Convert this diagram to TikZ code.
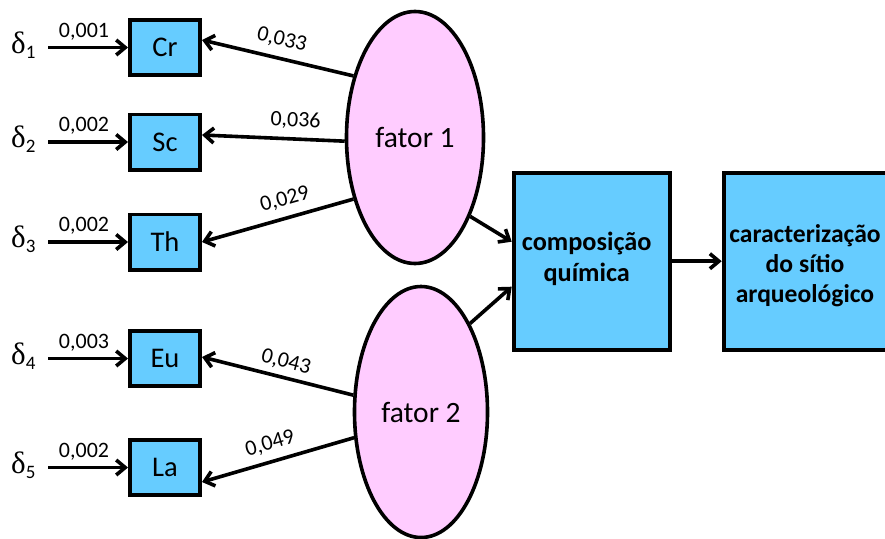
\documentclass[tikz,border=0pt]{standalone}
\usepackage{fontspec}
\setmainfont{Carlito}
\newfontfamily\dfont{Liberation Serif}
\usetikzlibrary{arrows.meta,shapes.geometric,calc}
\definecolor{boxblue}{RGB}{102,204,255}
\definecolor{pinkfill}{RGB}{255,204,255}
\begin{document}
\begin{tikzpicture}[x=1pt,y=-1pt,
  every node/.style={inner sep=0pt},
  var/.style={draw, line width=3.8pt, fill=boxblue, minimum width=70.2pt, minimum height=55.2pt, font=\fontsize{28.5}{32}\selectfont},
  big/.style={draw, line width=3.8pt, fill=boxblue, minimum height=177.2pt},
  fac/.style={draw, ellipse, line width=3.6pt, fill=pinkfill, font=\fontsize{29.5}{34}\selectfont},
  conn/.style={line width=3.6pt, -{Straight Barb[length=9pt,width=15pt]}},
  wt/.style={font=\fontsize{22}{25}\selectfont},
  btext/.style={font=\fontsize{26.3}{30.5}\selectfont\bfseries, align=center},
  dl/.style={anchor=base west, font=\dfont\fontsize{31}{34}\selectfont}
]
\clip (0,0) rectangle (885,538);
\fill[white] (0,0) rectangle (885,538);

% observed variables
\node[var] (cr) at (165,47.5) {Cr};
\node[var] (sc) at (165,142) {Sc};
\node[var] (th) at (165,242) {Th};
\node[var] (eu) at (165,358.5) {Eu};
\node[var] (la) at (165,467.5) {La};

% factors
\node[fac, minimum width=137pt, minimum height=252pt] (f1) at (415,137.5) {fator 1};
\node[fac, minimum width=133pt, minimum height=251pt] (f2) at (421,412) {fator 2};

% right boxes
\node[big, minimum width=156.2pt] (comp) at (591.7,261.2) {};
\node[btext] (tcomp) at (586.7,259) {composição\\química};
\node[big, minimum width=164.5pt] (sitio) at (805.85,261.2) {};
\node[btext, font=\fontsize{25.6}{29.6}\selectfont\bfseries] (tsitio) at (805,265.7) {caracterização\\do sítio\\arqueológico};

% error terms
\node[dl] (d1) at (11,53) {δ\raisebox{-5pt}{\rmfamily\fontsize{19}{20}\selectfont 1}};
\node[dl] (d2) at (11,147.5) {δ\raisebox{-5pt}{\rmfamily\fontsize{19}{20}\selectfont 2}};
\node[dl] (d3) at (11,247.5) {δ\raisebox{-5pt}{\rmfamily\fontsize{19}{20}\selectfont 3}};
\node[dl] (d4) at (11,364) {δ\raisebox{-5pt}{\rmfamily\fontsize{19}{20}\selectfont 4}};
\node[dl] (d5) at (11,473) {δ\raisebox{-5pt}{\rmfamily\fontsize{19}{20}\selectfont 5}};

\coordinate (s1) at (48,47.5);
\coordinate (s2) at (48,142);
\coordinate (s3) at (48,242);
\coordinate (s4) at (48,358.5);
\coordinate (s5) at (48,467.5);

\draw[conn] (s1) -- (cr) node[wt, pos=0.45, anchor=base, yshift=10.5pt] {0,001};
\draw[conn] (s2) -- (sc) node[wt, pos=0.45, anchor=base, yshift=10.5pt] {0,002};
\draw[conn] (s3) -- (th) node[wt, pos=0.45, anchor=base, yshift=10.5pt] {0,002};
\draw[conn] (s4) -- (eu) node[wt, pos=0.45, anchor=base, yshift=10.5pt] {0,003};
\draw[conn] (s5) -- (la) node[wt, pos=0.45, anchor=base, yshift=10.5pt] {0,002};

% loadings
\draw[conn] (f1.135) -- ($(cr.east)+(0,-7.5)$) node[wt, sloped, pos=0.5, above=8pt] {0,033};
\draw[conn] (f1.183) -- ($(sc.east)+(0,-7)$) node[wt, sloped, pos=0.35, above=8pt] {0,036};
\draw[conn] (f1.225) -- (th.east) node[wt, sloped, pos=0.42, above=8pt] {0,029};
\draw[conn] (f2.166) -- ($(eu.east)+(0,-1.5)$) node[wt, sloped, pos=0.47, above=5pt] {0,043};
\draw[conn] (f2.201) -- ($(la.east)+(0,14.5)$) node[wt, sloped, pos=0.52, above=7pt] {0,049};

% factors to composition
\draw[conn] (f1.305) -- ($(comp.west)+(0,-19.5)$);
\draw[conn] (f2.61) -- ($(comp.west)+(0,25.5)$);
\draw[conn] (comp.east) -- (sitio.west);
\end{tikzpicture}
\end{document}
